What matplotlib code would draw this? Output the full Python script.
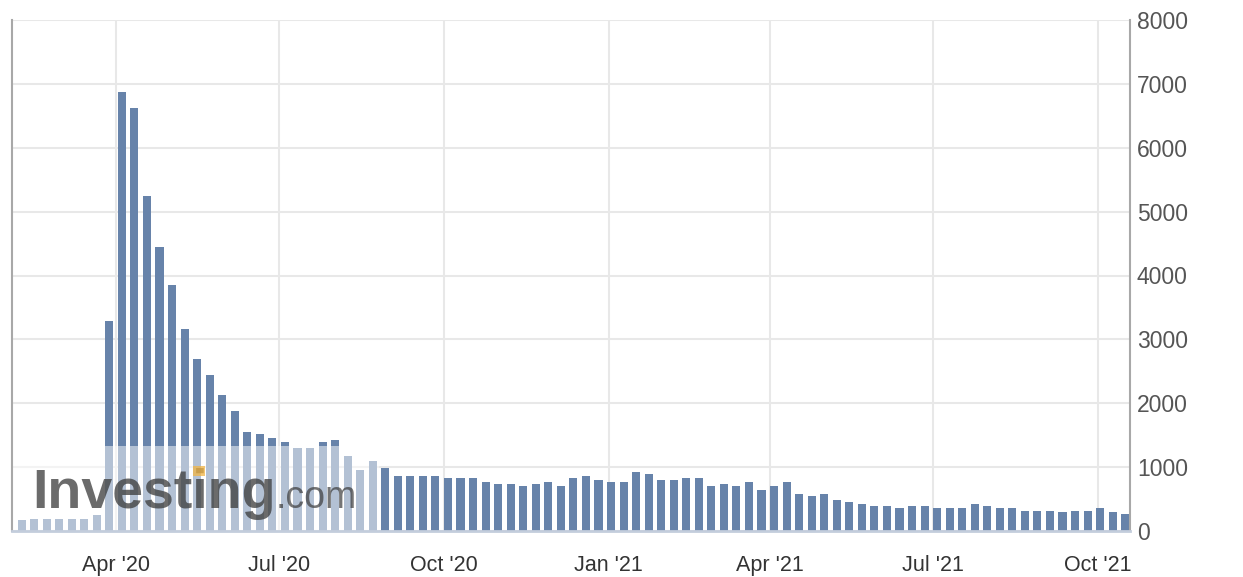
import matplotlib.pyplot as plt
import matplotlib.dates as mdates
from matplotlib.patches import Rectangle
import pandas as pd

plt.rcParams['font.family'] = ['Liberation Sans', 'DejaVu Sans']

# weekly values (thousands), one bar per Thursday release
claims = [165, 195, 195, 195, 195, 195, 258,
          3283, 6867, 6615, 5245, 4442, 3844, 3160, 2687,
          2438, 2123, 1877, 1549, 1517, 1454, 1392, 1300, 1300, 1400,
          1430, 1180, 960, 1090, 990,
          860, 860, 860, 860, 825, 825, 825, 760, 730, 730, 700, 730,
          760, 700, 825, 860,
          795, 765, 765, 920, 890, 795, 795, 825, 825, 700, 730, 700,
          765, 640, 700,
          765, 575, 545, 575, 480, 450, 415, 385, 385, 355, 385, 385,
          355, 355, 355,
          415, 385, 355, 355, 320, 320, 320, 290, 320, 320, 355, 290, 260]
dates = pd.date_range('2020-02-06', periods=len(claims), freq='7D')

tick_dates = pd.to_datetime(['2020-04-01', '2020-07-01', '2020-10-01', '2021-01-01',
                             '2021-04-01', '2021-07-01', '2021-10-01'])
tick_labels = ["Apr '20", "Jul '20", "Oct '20", "Jan '21", "Apr '21", "Jul '21", "Oct '21"]
y_ticks = [0, 1000, 2000, 3000, 4000, 5000, 6000, 7000, 8000]

fig = plt.figure(figsize=(12.43, 5.77), dpi=100)
ax = fig.add_axes([12 / 1243, 46 / 577, 1118 / 1243, 511 / 577])

ax.bar(dates, claims, width=4.5, align='edge', color='#6783aa', zorder=2)

xmin = pd.Timestamp('2020-02-02 22:00')
xmax = pd.Timestamp('2021-10-18 22:00')
ax.set_xlim(xmin, xmax)
ax.set_ylim(0, 8000)

# watermark box over the left part
x0 = mdates.date2num(xmin)
x1 = mdates.date2num(pd.Timestamp('2020-08-25 12:00'))
ax.add_patch(Rectangle((x0, 0), x1 - x0, 1330, facecolor='white', alpha=0.5,
                       edgecolor='none', zorder=3))
ax.text(0.0179, 0.045, 'Investing', transform=ax.transAxes, fontsize=40,
        fontweight='bold', color='#3a3a3a', alpha=0.75, va='baseline', zorder=4)
ax.text(0.236, 0.045, '.com', transform=ax.transAxes, fontsize=27,
        color='#3a3a3a', alpha=0.7, va='baseline', zorder=4)
ax.add_patch(Rectangle((0.162, 0.108), 0.0105, 0.02, transform=ax.transAxes,
                       facecolor='#f2b544', alpha=0.75, edgecolor='none', zorder=5))

ax.set_xticks(tick_dates)
ax.set_xticklabels(tick_labels)
ax.set_yticks(y_ticks)
ax.yaxis.tick_right()
ax.tick_params(axis='x', length=0, pad=17, labelsize=15.5, labelcolor='#333333')
ax.tick_params(axis='y', length=0, pad=5, labelsize=16.5, labelcolor='#555555')

ax.grid(color='#e8e8e8', lw=1.5)
ax.set_axisbelow(True)
for s in ['left', 'right']:
    ax.spines[s].set_color('#a8a8a8')
    ax.spines[s].set_linewidth(1.5)
ax.spines['bottom'].set_color('#c3cddc')
ax.spines['bottom'].set_linewidth(2)
ax.spines['top'].set_visible(False)
for s in ax.spines.values():
    s.set_zorder(6)

fig.savefig('out.png', dpi=100)
